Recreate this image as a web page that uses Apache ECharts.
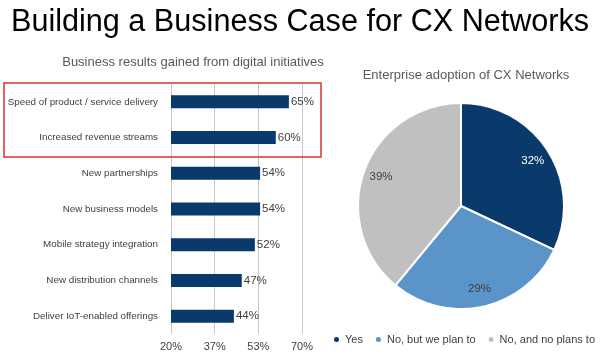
<!DOCTYPE html>
<html>
<head>
<meta charset="utf-8">
<script src="https://cdn.jsdelivr.net/npm/echarts@6/dist/echarts.min.js"></script>
<style>
html,body{margin:0;padding:0;background:#fff;}
#chart{width:600px;height:360px;}
</style>
</head>
<body>
<div id="chart"></div>
<script>
const categories = [
  "Speed of product / service delivery",
  "Increased revenue streams",
  "New partnerships",
  "New business models",
  "Mobile strategy integration",
  "New distribution channels",
  "Deliver IoT-enabled offerings"
];
const barValues = [65, 60, 54, 54, 52, 47, 44];
const axisTicks = [20, 37, 53, 70];
const pieNames = ["Yes", "No, but we plan to", "No, and no plans to"];
const pieValues = [32, 29, 39];
const pieColors = ["#0a3a6b", "#5b94c9", "#c0c0c0"];
const pieLabelColors = ["#ffffff", "#404040", "#404040"];

const FONT = "Liberation Sans, Arial, sans-serif";
const chart = echarts.init(document.getElementById('chart'), null, {renderer: 'canvas'});

const axMin = axisTicks[0], axMax = axisTicks[axisTicks.length - 1];
const pieData = pieNames.map((n, i) => ({name: n, value: pieValues[i], itemStyle: {color: pieColors[i]}}));
const pieLabelData = pieNames.map((n, i) => ({name: n, value: pieValues[i], label: {color: pieLabelColors[i]}}));

chart.setOption({
  animation: false,
  textStyle: {fontFamily: FONT},
  title: [
    {text: "Building a Business Case for CX Networks", left: 6, top: 2,
     textStyle: {fontSize: 30.6, fontWeight: 'normal', color: '#000', fontFamily: FONT}},
    {text: "Business results gained from digital initiatives", left: 188, top: 51, textAlign: 'center',
     textStyle: {fontSize: 13, fontWeight: 'normal', color: '#595959', fontFamily: FONT}},
    {text: "Enterprise adoption of CX Networks", left: 461, top: 64, textAlign: 'center',
     textStyle: {fontSize: 13, fontWeight: 'normal', color: '#595959', fontFamily: FONT}}
  ],
  legend: {
    data: pieNames, left: 332, top: 334, width: 268, padding: 0, icon: 'circle',
    itemWidth: 7, itemHeight: 7, itemGap: 11,
    textStyle: {fontSize: 11, color: '#404040', fontFamily: FONT}
  },
  grid: {left: 171, right: 298, top: 84, bottom: 26, containLabel: false, outerBoundsMode: 'none'},
  xAxis: {
    type: 'value', min: axMin, max: axMax, interval: (axMax - axMin) / (axisTicks.length - 1),
    axisLine: {show: false}, axisTick: {show: false},
    splitLine: {show: true, lineStyle: {color: '#c8c8c8', width: 1}},
    axisLabel: {fontSize: 11, color: '#404040', margin: 7,
      formatter: v => Math.round(v) + '%'}
  },
  yAxis: {
    type: 'category', data: categories, inverse: true,
    axisLine: {show: false}, axisTick: {show: false},
    axisLabel: {fontSize: 9.8, color: '#404040', margin: 13}
  },
  series: [
    {type: 'bar', data: barValues, barWidth: 13, itemStyle: {color: '#0a3a6b'},
     label: {show: true, position: 'right', distance: 2, formatter: '{c}%', fontSize: 11.5, color: '#404040'}},
    {type: 'pie', center: [461, 206], radius: [0, 103], startAngle: 90, clockwise: true,
     data: pieData, label: {show: false}, labelLine: {show: false},
     itemStyle: {borderColor: '#fff', borderWidth: 2}},
    {type: 'pie', center: [461, 206], radius: [60, 104], startAngle: 90, clockwise: true, silent: true,
     data: pieLabelData, itemStyle: {color: 'rgba(0,0,0,0)'},
     label: {show: true, position: 'inside', formatter: '{c}%', fontSize: 11.5}, labelLine: {show: false}}
  ],
  graphic: [
    {type: 'rect', shape: {x: 4, y: 83, width: 317, height: 74},
     style: {fill: 'none', stroke: '#d9342b', lineWidth: 1.5}, z: 100}
  ]
});
</script>
</body>
</html>
